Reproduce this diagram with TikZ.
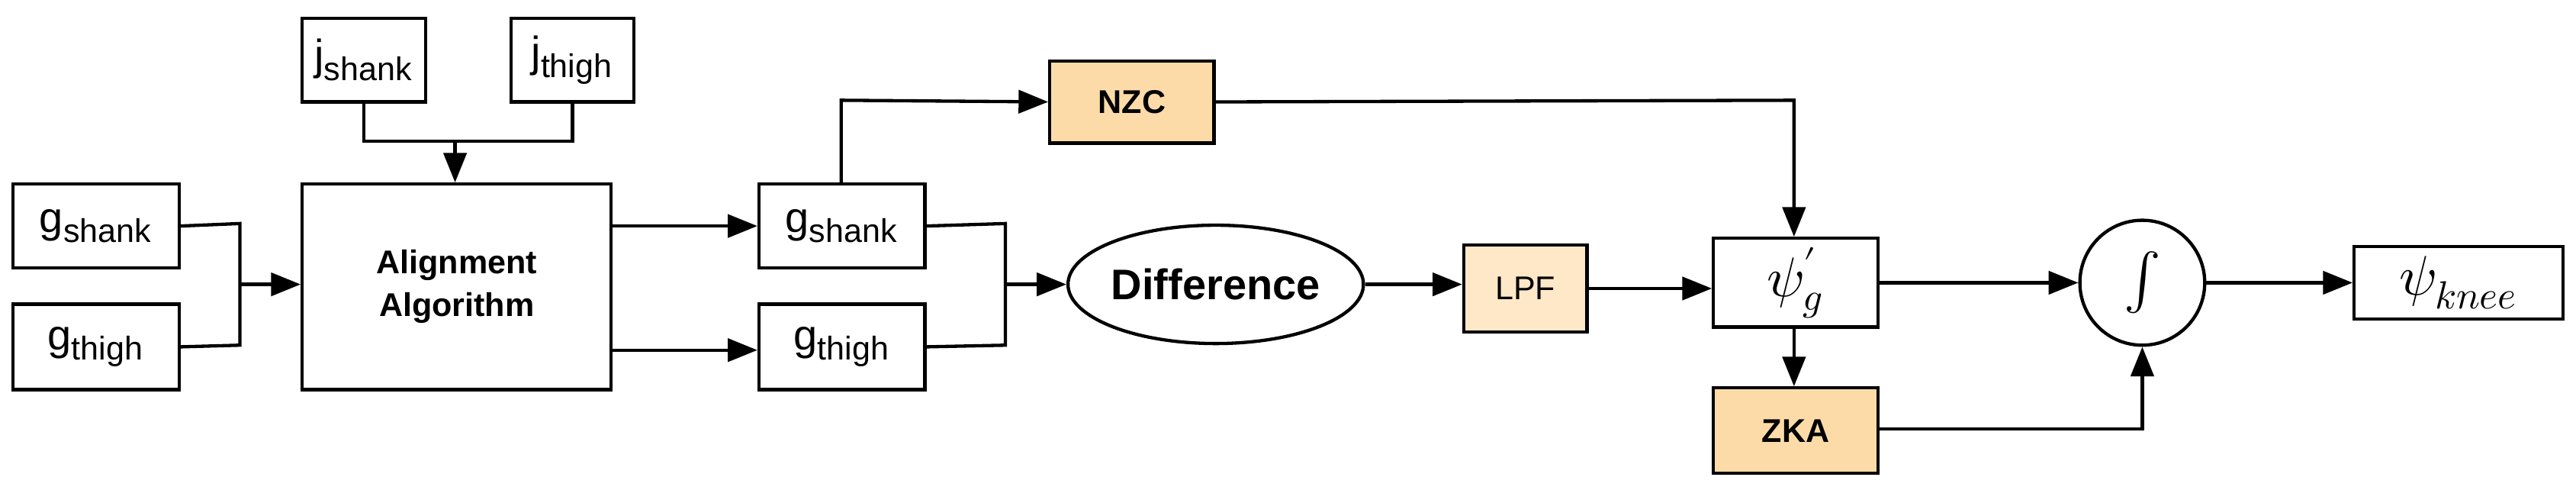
\documentclass[tikz,border=0pt]{standalone}
\usepackage{fontspec}
\setmainfont{Liberation Sans}
\usepackage{unicode-math}
\setmathfont{Latin Modern Math}
\usetikzlibrary{arrows.meta,shapes.geometric}
\begin{document}
\begin{tikzpicture}[x=0.5pt,y=-0.5pt,
  box/.style={draw,line width=1pt,inner sep=0pt,anchor=north west},
  ln/.style={line width=1pt},
  ar/.style={ln,-{Triangle[length=9pt,width=7pt]}},
  lab/.style={font=\fontsize{12}{14}\selectfont}]
\useasboundingbox (0,0) rectangle (1568,298);
\node[box,minimum width=50.5pt,minimum height=25.5pt] (gs) at (7,111) {\fontsize{13}{14}\selectfont g\textsubscript{\fontsize{10}{12}\selectfont shank}};
\node[box,minimum width=50.5pt,minimum height=26pt] (gt) at (7,184) {\fontsize{13}{14}\selectfont g\textsubscript{\fontsize{10}{12}\selectfont thigh}};
\node[box,minimum width=37.5pt,minimum height=25.5pt] (js) at (183,10) {\fontsize{13}{14}\selectfont j\textsubscript{\fontsize{10}{12}\selectfont shank}};
\node[box,minimum width=37.5pt,minimum height=25.5pt] (jt) at (310,10) {\fontsize{13}{14}\selectfont j\textsubscript{\fontsize{10}{12}\selectfont thigh}};
\node[box,minimum width=94pt,minimum height=62.5pt,align=center,font=\bfseries\fontsize{10}{13}\selectfont] (al) at (183,111) {Alignment\\Algorithm};
\node[box,minimum width=50.5pt,minimum height=25.5pt] (gs2) at (461,111) {\fontsize{13}{14}\selectfont g\textsubscript{\fontsize{10}{12}\selectfont shank}};
\node[box,minimum width=50.5pt,minimum height=26pt] (gt2) at (461,184) {\fontsize{13}{14}\selectfont g\textsubscript{\fontsize{10}{12}\selectfont thigh}};
\node[box,fill={rgb,255:red,253;green,219;blue,168},minimum width=50pt,minimum height=25pt,font=\bfseries\fontsize{10}{12}\selectfont] (nzc) at (638,36) {NZC};
\node[draw,ellipse,line width=1pt,minimum width=76pt,minimum height=36pt,inner sep=0pt,font=\bfseries\fontsize{13}{14}\selectfont] (dif) at (740,173) {Difference};
\node[box,fill={rgb,255:red,255;green,232;blue,200},minimum width=37.5pt,minimum height=26.5pt,font=\fontsize{10}{12}\selectfont] (lpf) at (890,148) {LPF};
\node[box,minimum width=50pt,minimum height=27pt] (psg) at (1042,144) {\fontsize{17}{18}\selectfont$\psi_g'$};
\node[box,fill={rgb,255:red,253;green,219;blue,168},minimum width=50pt,minimum height=26pt,font=\bfseries\fontsize{10}{12}\selectfont] (zka) at (1042,235) {ZKA};
\node[draw,ellipse,line width=1pt,minimum width=38pt,minimum height=38pt,inner sep=0pt] (int) at (1304,172) {\fontsize{17}{18}\selectfont$\int$};
\node[box,minimum width=63.5pt,minimum height=22pt] (psk) at (1432,149) {\fontsize{17}{18}\selectfont$\psi_{knee}$};
% left joins
\coordinate (j1) at (146,173);
\draw[ln] (gs.east) -- (146,136) -- (146,210) -- (gt.east);
\draw[ar] (j1) -- (al.west |- j1);
\coordinate (j2) at (277,86);
\draw[ln] (js.south) -- (js.south |- j2) -- (jt.south |- j2) -- (jt.south);
\draw[ar] (j2) -- (al.north -| j2);
\draw[ar] (al.east |- gs2.west) -- (gs2.west);
\coordinate (j3) at (371,213);
\draw[ar] (j3) -- (gt2.west |- j3);
\coordinate (j4) at (612,173);
\draw[ln] (gs2.east) -- (612,136) -- (612,210) -- (gt2.east);
\draw[ar] (j4) -- (dif.west);
\coordinate (j5) at (512,61);
\draw[ar] (gs2.north -| j5) -- (j5) -- (nzc.west);
\coordinate (j6) at (1092,61);
\draw[ar] (nzc.east) -- (j6) -- (psg.north -| j6);
\draw[ar] (dif.east) -- (lpf.west |- dif.east);
\draw[ar] (lpf.east) -- (psg.west |- lpf.east);
\draw[ar] (psg.south -| j6) -- (zka.north -| j6);
\draw[ar] (psg.east |- int.west) -- (int.west);
\coordinate (j7) at (1304,261);
\draw[ar] (zka.east |- j7) -- (j7) -- (int.south);
\draw[ar] (int.east) -- (psk.west |- int.east);
\end{tikzpicture}
\end{document}
